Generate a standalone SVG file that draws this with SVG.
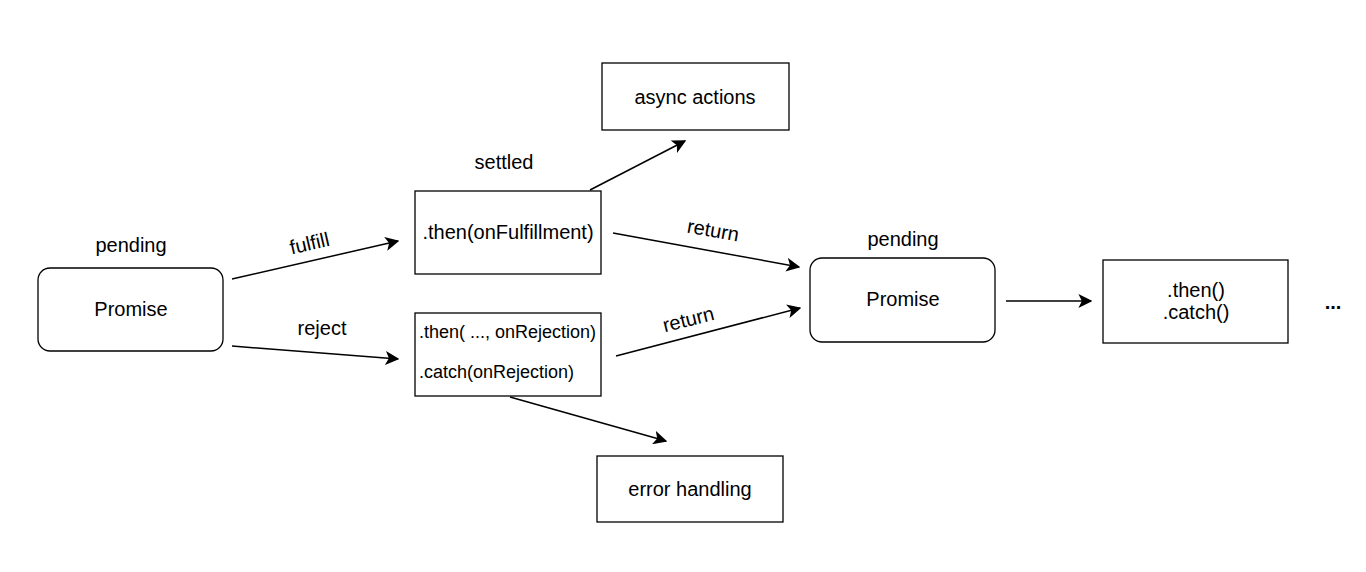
<svg xmlns="http://www.w3.org/2000/svg" width="1366" height="572" viewBox="0 0 1366 572">
<style>
.box{fill:#fff;stroke:#000;stroke-width:1.3}
.t{font-family:"Liberation Sans",Arial,sans-serif;font-size:20px;fill:#000;text-anchor:middle}
.s{font-size:18px}
.e{stroke:#000;stroke-width:1.5;fill:none;marker-end:url(#a)}
</style>
<defs>
<marker id="a" viewBox="0 0 10 10" refX="9" refY="5" markerWidth="14" markerHeight="14" markerUnits="userSpaceOnUse" orient="auto">
<path d="M0,0 L10,5 L0,10 L2.5,5 Z" fill="#000"/>
</marker>
</defs>
<rect width="1366" height="572" fill="#fff"/>
<g id="edges">
<line class="e" x1="232" y1="279" x2="398" y2="241"/>
<line class="e" x1="232" y1="346" x2="398" y2="359"/>
<line class="e" x1="590" y1="190" x2="685" y2="141"/>
<line class="e" x1="613" y1="233" x2="799" y2="267"/>
<line class="e" x1="616" y1="356" x2="800" y2="308"/>
<line class="e" x1="1006" y1="301" x2="1091" y2="301"/>
<line class="e" x1="510" y1="397" x2="666" y2="441"/>
<text class="t" transform="translate(311,250) rotate(-13)">fulfill</text>
<text class="t" x="322" y="335">reject</text>
<text class="t" transform="translate(712,237) rotate(10)">return</text>
<text class="t" transform="translate(690,326) rotate(-14)">return</text>
</g>
<g id="promise1">
<rect class="box" x="38" y="268" width="185" height="83" rx="12"/>
<text class="t" x="131" y="316">Promise</text>
<text class="t" x="131" y="252">pending</text>
</g>
<g id="then">
<rect class="box" x="415" y="191" width="186" height="83"/>
<text class="t" x="504" y="169">settled</text>
<text class="t" x="508" y="239">.then(onFulfillment)</text>
</g>
<g id="catch">
<rect class="box" x="415" y="313" width="186" height="83"/>
<text class="t s" x="419" y="338" style="text-anchor:start">.then( ..., onRejection)</text>
<text class="t s" x="419" y="378" style="text-anchor:start">.catch(onRejection)</text>
</g>
<g id="async">
<rect class="box" x="602" y="63" width="187" height="67"/>
<text class="t" x="695" y="104">async actions</text>
</g>
<g id="error">
<rect class="box" x="597" y="456" width="186" height="66"/>
<text class="t" x="690" y="496">error handling</text>
</g>
<g id="promise2">
<rect class="box" x="810" y="258" width="185" height="84" rx="12"/>
<text class="t" x="903" y="306">Promise</text>
<text class="t" x="903" y="246">pending</text>
</g>
<g id="next">
<rect class="box" x="1103" y="260" width="185" height="83"/>
<text class="t" x="1196" y="297">.then()</text>
<text class="t" x="1196" y="319">.catch()</text>
</g>
<g id="more">
<text class="t" x="1333" y="309" font-weight="bold">...</text>
</g>
</svg>
